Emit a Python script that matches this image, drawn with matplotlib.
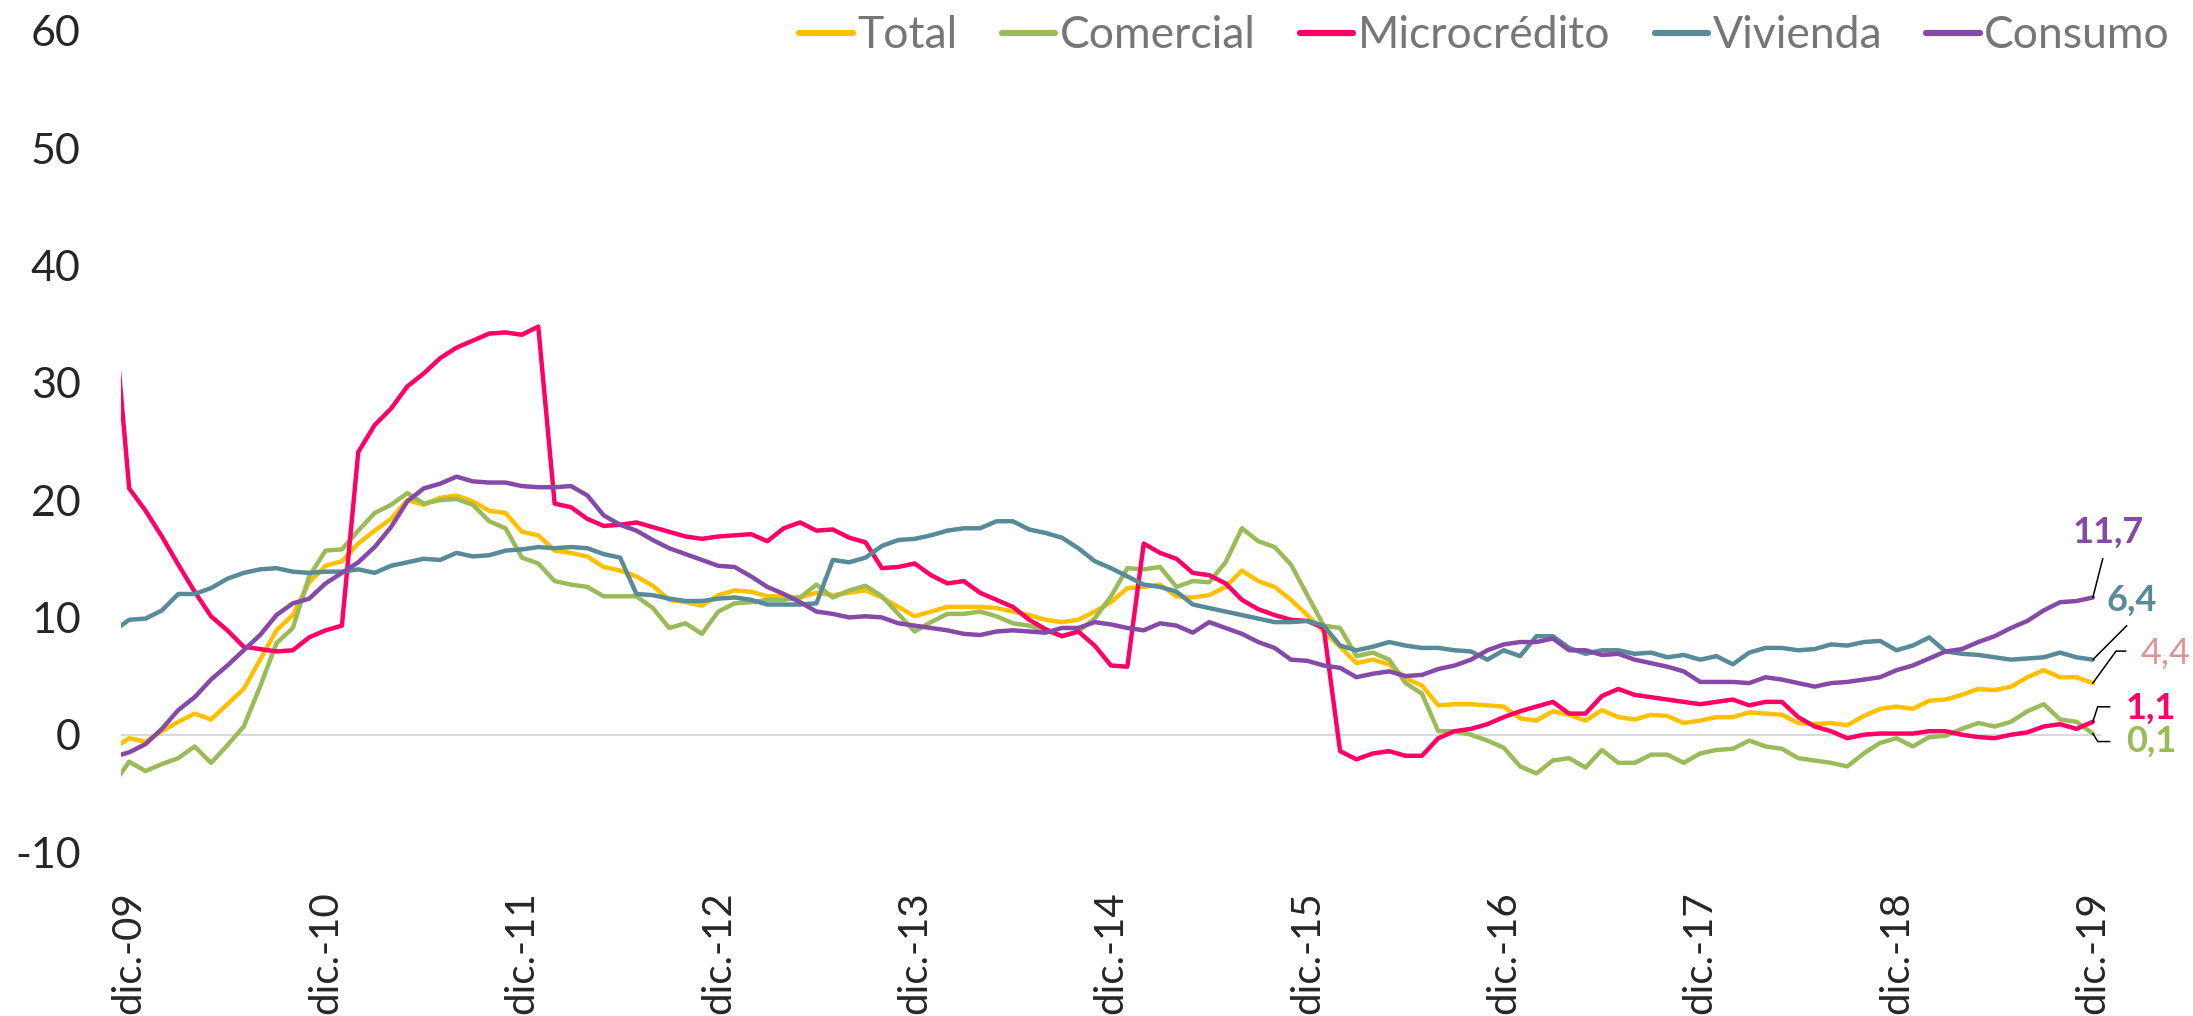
import numpy as np
import matplotlib
matplotlib.use('Agg')
import matplotlib.pyplot as plt

# month index: -1 = nov-09, 0 = dic-09 ... 120 = dic-19
months = np.arange(-1, 121)
tick_pos = np.arange(0, 121, 12)
tick_labels = ['dic.-09', 'dic.-10', 'dic.-11', 'dic.-12', 'dic.-13', 'dic.-14',
               'dic.-15', 'dic.-16', 'dic.-17', 'dic.-18', 'dic.-19']

total = [-1.2, -0.3, -0.6, 0.3, 1.1, 1.8, 1.3, 2.6, 3.9, 6.4, 8.9, 10.2, 13.0, 14.4, 14.8, 16.3, 17.4, 18.4,
         20.0, 19.6, 20.2, 20.4, 19.9, 19.1, 18.9, 17.3, 17.0, 15.7, 15.5, 15.2, 14.3, 14.0, 13.5, 12.7, 11.5,
         11.3, 11.0, 11.9, 12.3, 12.2, 11.8, 11.8, 11.7, 12.1, 11.9, 12.1, 12.3, 11.7, 10.9, 10.1, 10.5, 10.9,
         10.9, 10.9, 10.8, 10.5, 10.2, 9.8, 9.6, 9.8, 10.5, 11.3, 12.5, 12.6, 12.8, 11.8, 11.7, 11.9, 12.6,
         14.0, 13.1, 12.6, 11.5, 10.2, 8.8, 7.5, 6.1, 6.4, 6.0, 4.8, 4.2, 2.5, 2.6, 2.6, 2.5, 2.4, 1.4, 1.2,
         2.0, 1.7, 1.2, 2.1, 1.5, 1.3, 1.7, 1.6, 1.0, 1.2, 1.5, 1.5, 1.9, 1.8, 1.7, 1.0, 0.9, 1.0, 0.8, 1.6,
         2.2, 2.4, 2.2, 2.9, 3.0, 3.4, 3.9, 3.8, 4.1, 4.9, 5.5, 4.9, 4.9, 4.4]

comercial = [-4.3, -2.3, -3.1, -2.5, -2.0, -1.0, -2.4, -0.9, 0.7, 4.1, 7.8, 9.1, 13.5, 15.7, 15.8, 17.4, 18.9,
             19.6, 20.6, 19.7, 20.0, 20.1, 19.6, 18.2, 17.6, 15.1, 14.6, 13.1, 12.8, 12.6, 11.8, 11.8, 11.8,
             10.8, 9.1, 9.5, 8.6, 10.5, 11.2, 11.3, 11.5, 11.5, 11.7, 12.8, 11.7, 12.3, 12.7, 11.8, 10.3, 8.8,
             9.6, 10.3, 10.3, 10.5, 10.1, 9.5, 9.3, 8.9, 8.4, 8.8, 9.9, 11.8, 14.2, 14.1, 14.3, 12.6, 13.1,
             13.0, 14.7, 17.6, 16.5, 16.0, 14.5, 11.9, 9.3, 9.1, 6.7, 7.0, 6.4, 4.4, 3.5, 0.3, 0.3, 0.0, -0.5,
             -1.1, -2.7, -3.3, -2.2, -2.0, -2.8, -1.3, -2.4, -2.4, -1.7, -1.7, -2.4, -1.6, -1.3, -1.2, -0.5,
             -1.0, -1.2, -2.0, -2.2, -2.4, -2.7, -1.6, -0.7, -0.3, -1.0, -0.2, -0.1, 0.5, 1.0, 0.7, 1.1, 2.0,
             2.6, 1.3, 1.1, 0.1]

microcredito = [37.0, 21.0, 19.1, 16.9, 14.5, 12.2, 10.1, 8.9, 7.5, 7.3, 7.1, 7.2, 8.3, 8.9, 9.3, 24.1, 26.4,
                27.8, 29.7, 30.8, 32.1, 33.0, 33.6, 34.2, 34.3, 34.1, 34.8, 19.7, 19.4, 18.4, 17.8, 17.9, 18.1,
                17.7, 17.3, 16.9, 16.7, 16.9, 17.0, 17.1, 16.5, 17.6, 18.1, 17.4, 17.5, 16.8, 16.4, 14.2, 14.3,
                14.6, 13.6, 12.9, 13.1, 12.1, 11.5, 10.9, 9.8, 9.0, 8.4, 8.8, 7.6, 5.9, 5.8, 16.3, 15.5, 15.0,
                13.8, 13.6, 12.9, 11.5, 10.7, 10.2, 9.8, 9.7, 9.1, -1.4, -2.1, -1.6, -1.4, -1.8, -1.8, -0.3, 0.3,
                0.5, 0.9, 1.5, 2.0, 2.4, 2.8, 1.8, 1.8, 3.3, 3.9, 3.4, 3.2, 3.0, 2.8, 2.6, 2.8, 3.0, 2.5, 2.8,
                2.8, 1.5, 0.7, 0.3, -0.3, 0.0, 0.1, 0.1, 0.1, 0.3, 0.3, 0.0, -0.2, -0.3, 0.0, 0.2, 0.7, 0.9,
                0.5, 1.1]

vivienda = [8.8, 9.8, 9.9, 10.6, 12.0, 12.0, 12.5, 13.3, 13.8, 14.1, 14.2, 13.9, 13.8, 13.9, 13.9, 14.1, 13.8,
            14.4, 14.7, 15.0, 14.9, 15.5, 15.2, 15.3, 15.7, 15.8, 16.0, 15.9, 16.0, 15.9, 15.4, 15.1, 12.0,
            11.9, 11.6, 11.4, 11.4, 11.6, 11.7, 11.5, 11.1, 11.1, 11.1, 11.2, 14.9, 14.7, 15.1, 16.1, 16.6,
            16.7, 17.0, 17.4, 17.6, 17.6, 18.2, 18.2, 17.5, 17.2, 16.8, 15.9, 14.8, 14.2, 13.5, 12.8, 12.6,
            12.2, 11.1, 10.8, 10.5, 10.2, 9.9, 9.6, 9.6, 9.7, 9.3, 7.6, 7.2, 7.5, 7.9, 7.6, 7.4, 7.4, 7.2, 7.1,
            6.4, 7.2, 6.7, 8.4, 8.4, 7.4, 6.9, 7.2, 7.2, 6.9, 7.0, 6.6, 6.8, 6.4, 6.7, 6.0, 7.0, 7.4, 7.4, 7.2,
            7.3, 7.7, 7.6, 7.9, 8.0, 7.2, 7.6, 8.3, 7.1, 6.9, 6.8, 6.6, 6.4, 6.5, 6.6, 7.0, 6.6, 6.4]

consumo = [-1.9, -1.5, -0.8, 0.5, 2.1, 3.2, 4.7, 5.9, 7.2, 8.5, 10.2, 11.2, 11.6, 12.9, 13.8, 14.7, 16.0, 17.7,
           19.9, 21.0, 21.4, 22.0, 21.6, 21.5, 21.5, 21.2, 21.1, 21.1, 21.2, 20.4, 18.7, 17.9, 17.4, 16.6, 15.9,
           15.4, 14.9, 14.4, 14.3, 13.5, 12.6, 12.0, 11.3, 10.5, 10.3, 10.0, 10.1, 10.0, 9.5, 9.3, 9.1, 8.9,
           8.6, 8.5, 8.8, 8.9, 8.8, 8.7, 9.1, 9.1, 9.6, 9.4, 9.1, 8.9, 9.5, 9.3, 8.7, 9.6, 9.1, 8.6, 7.9, 7.4,
           6.4, 6.3, 5.9, 5.7, 4.9, 5.2, 5.4, 5.0, 5.1, 5.6, 5.9, 6.4, 7.2, 7.7, 7.9, 7.9, 8.2, 7.2, 7.2, 6.8,
           6.9, 6.4, 6.1, 5.8, 5.4, 4.5, 4.5, 4.5, 4.4, 4.9, 4.7, 4.4, 4.1, 4.4, 4.5, 4.7, 4.9, 5.5, 5.9, 6.5,
           7.1, 7.3, 7.9, 8.4, 9.1, 9.7, 10.6, 11.3, 11.4, 11.7]

series_names = ['Total', 'Comercial', 'Microcrédito', 'Vivienda', 'Consumo']
series_values = [total, comercial, microcredito, vivienda, consumo]
colors = ['#FFC000', '#9BBB59', '#FF0066', '#568B97', '#8549A8']

plt.rcParams['font.family'] = ['Lato', 'DejaVu Sans']
plt.rcParams['axes.unicode_minus'] = False

W, H = 2193, 1016
fig = plt.figure(figsize=(W / 100, H / 100), dpi=100)
ax = fig.add_axes([121 / W, 1 - 852 / H, (2101 - 121) / W, (852 - 31) / H])

ax.axhline(0, color='#D9D9D9', lw=1.5, zorder=1)
for name, vals, c in zip(series_names, series_values, colors):
    ax.plot(months, vals, color=c, lw=3.2, label=name, solid_joinstyle='round',
            solid_capstyle='round', zorder=2)

ax.set_xlim(-0.5, 120.5)
ax.set_ylim(-10, 60)
ax.set_yticks(range(-10, 61, 10))
ax.set_xticks(tick_pos)
ax.set_xticklabels(tick_labels, rotation=90)
ax.tick_params(axis='y', length=0, pad=29, labelsize=31, labelcolor='#262626')
ax.tick_params(axis='x', length=0, pad=28, labelsize=29, labelcolor='#262626')
for s in ax.spines.values():
    s.set_visible(False)

leg = fig.legend(loc='center right', bbox_to_anchor=(2170 / W, 1 - 36 / H), ncol=5, frameon=False,
                 fontsize=32, handlelength=1.2, handletextpad=0.1, columnspacing=1.0,
                 labelcolor='#767676', borderpad=0, borderaxespad=0)
for ln in leg.get_lines():
    ln.set_linewidth(4.5)

# end-of-series data labels with leader lines (offsets in pixels from the last point)
last = {n: v[-1] for n, v in zip(series_names, series_values)}
fmt = lambda v: f"{v:.1f}".replace('.', ',')
labels_cfg = [
    ('Consumo', '#8549A8', True, (15, 65), (10, 39), 'arc3,rad=0'),
    ('Vivienda', '#568B97', True, (39, 59), (34, 34), 'arc3,rad=0'),
    ('Total', '#DA9694', False, (73, 30), (33, 32), 'angle,angleA=0,angleB=54,rad=0'),
    ('Microcrédito', '#FF0066', True, (58, 14), (17, 15), 'angle,angleA=0,angleB=72,rad=0'),
    ('Comercial', '#9BBB59', True, (58, -8), (17, -8), 'angle,angleA=0,angleB=-58,rad=0'),
]
for name, col, bold, toff, loff, cs in labels_cfg:
    v = last[name]
    ax.annotate('', xy=(120, v), xytext=loff, textcoords='offset pixels',
                arrowprops=dict(arrowstyle='-', color='black', lw=1.1, shrinkA=0, shrinkB=0,
                                connectionstyle=cs), annotation_clip=False)
    ax.annotate(fmt(v), xy=(120, v), xytext=toff, textcoords='offset pixels', ha='center',
                va='center', fontsize=26, fontweight='bold' if bold else 'normal', color=col,
                annotation_clip=False)

fig.savefig('out.png', dpi=100)
